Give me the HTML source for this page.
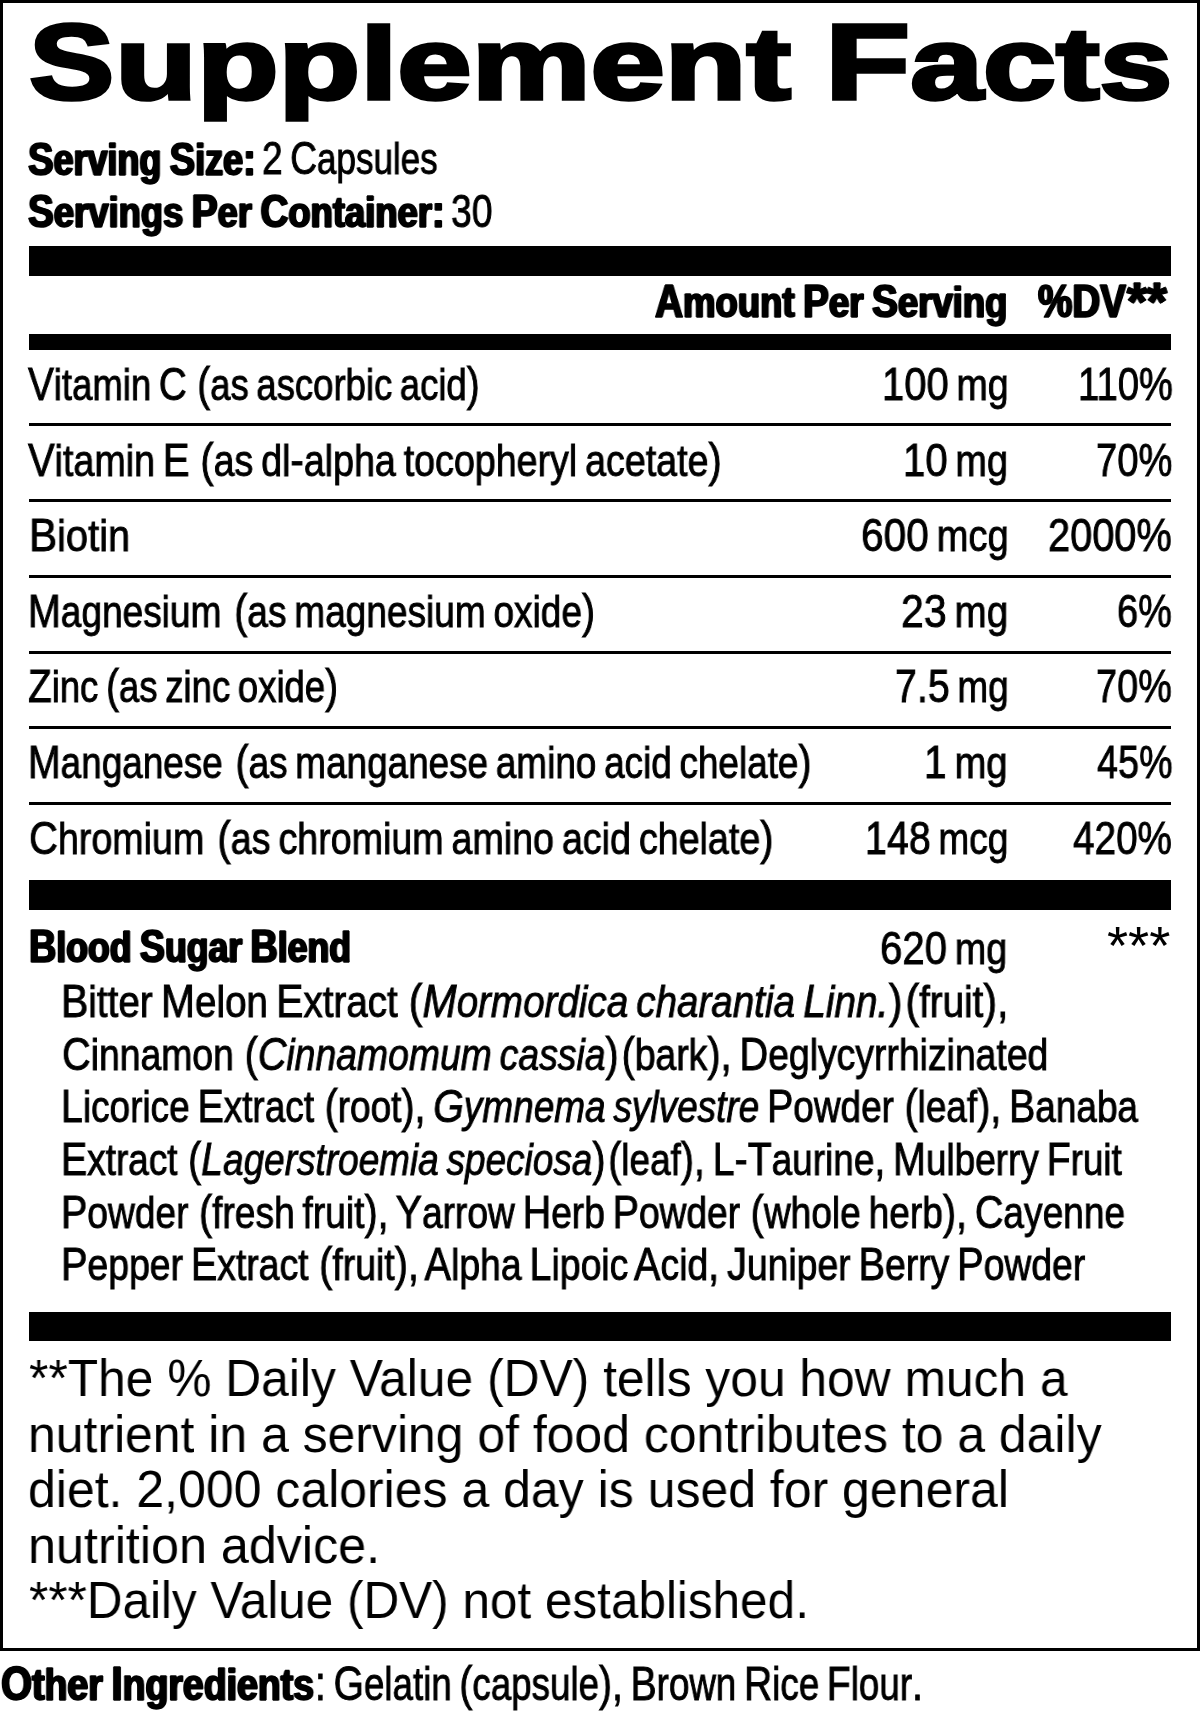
<!DOCTYPE html>
<html><head><meta charset="utf-8"><title>Supplement Facts</title><style>
html,body{margin:0;padding:0;background:#fff;}
body{width:1200px;height:1711px;position:relative;overflow:hidden;}
.box{position:absolute;left:0;top:0;width:1194px;height:1645px;border:3px solid #000;}
.bar{position:absolute;left:29px;width:1142px;background:#000;}

.t{position:absolute;white-space:nowrap;transform-origin:0 0;will-change:transform;color:#000;font-family:"Liberation Sans",sans-serif;}
.hb{font-weight:700;-webkit-text-stroke:3.5px #000;}
.b{font-weight:700;word-spacing:-0.06em;-webkit-text-stroke:1.4px #000;text-shadow:1.3px 0 0 #000,-1.3px 0 0 #000;}
.r{font-weight:400;-webkit-text-stroke:0.9px #000;word-spacing:-0.08em;}
.a{font-weight:400;}
.t i{font-style:italic;}
.lc{font-size:0.94em;}
.sN{display:inline-block;transform:scaleX(0.9);transform-origin:0 0;margin-right:-0.06em;}
.lc2{font-size:0.94em;}
.g{display:inline-block;width:0.07em;}
.g2{display:inline-block;width:0.13em;}
</style></head><body>
<div class="box"></div>

<div class="bar" style="top:246px;height:30px"></div>
<div class="bar" style="top:334px;height:16px"></div>
<div class="bar" style="top:423px;height:3px"></div>
<div class="bar" style="top:499px;height:3px"></div>
<div class="bar" style="top:575px;height:3px"></div>
<div class="bar" style="top:651px;height:3px"></div>
<div class="bar" style="top:726px;height:3px"></div>
<div class="bar" style="top:802px;height:3px"></div>
<div class="bar" style="top:880px;height:30px"></div>
<div class="bar" style="top:1312px;height:29px"></div>
<div class="t hb" style="left:28.69px;top:8.14px;font-size:108.287px;line-height:108.287px;transform:scaleX(1.3133)"><span class="sN">S</span><span class="lc">upplement</span></div>
<div class="t hb" style="left:825.28px;top:8.14px;font-size:108.287px;line-height:108.287px;transform:scaleX(1.2874)">F<span class="lc">acts</span></div>
<div class="t b" style="left:28.00px;top:135.77px;font-size:46.222px;line-height:46.222px;transform:scaleX(0.8272)">S<span class=lc2>erving</span> S<span class=lc2>ize</span>:</div>
<div class="t r" style="left:262.41px;top:135.41px;font-size:46.948px;line-height:46.948px;transform:scaleX(0.7936)">2 C<span class=lc2>apsules</span></div>
<div class="t b" style="left:28.00px;top:188.82px;font-size:45.931px;line-height:45.931px;transform:scaleX(0.8432)">S<span class=lc2>ervings</span> P<span class=lc2>er</span> C<span class=lc2>ontainer</span>:</div>
<div class="t r" style="left:451.20px;top:188.45px;font-size:46.658px;line-height:46.658px;transform:scaleX(0.8000)">30</div>
<div class="t b" style="left:655.00px;top:279.22px;font-size:45.931px;line-height:45.931px;transform:scaleX(0.8458)">A<span class=lc2>mount</span> P<span class=lc2>er</span> S<span class=lc2>erving</span></div>
<div class="t b" style="left:1037.75px;top:279.22px;font-size:45.931px;line-height:45.931px;transform:scaleX(0.8405)">%DV</div>
<div class="t b" style="left:1127.10px;top:274.03px;font-size:54.125px;line-height:54.125px;transform:scaleX(0.9468)">**</div>
<div class="t r" style="left:28.00px;top:360.85px;font-size:46.658px;line-height:46.658px;transform:scaleX(0.8318)">V<span class=lc2>itamin</span> C <span class=g style=width:0.07em></span>(<span class=lc2>as</span> <span class=lc2>ascorbic</span> <span class=lc2>acid</span>)</div>
<div class="t r" style="left:881.83px;top:360.85px;font-size:46.658px;line-height:46.658px;transform:scaleX(0.8563)">100 <span class=lc2>mg</span></div>
<div class="t r" style="left:1077.54px;top:360.85px;font-size:46.658px;line-height:46.658px;transform:scaleX(0.8198)">110%</div>
<div class="t r" style="left:28.00px;top:436.55px;font-size:46.658px;line-height:46.658px;transform:scaleX(0.8575)">V<span class=lc2>itamin</span> E <span class=g style=width:0.07em></span>(<span class=lc2>as</span> <span class=lc2>dl</span>-<span class=lc2>alpha</span> <span class=lc2>tocopheryl</span> <span class=lc2>acetate</span>)</div>
<div class="t r" style="left:902.82px;top:436.55px;font-size:46.658px;line-height:46.658px;transform:scaleX(0.8598)">10 <span class=lc2>mg</span></div>
<div class="t r" style="left:1095.76px;top:436.55px;font-size:46.658px;line-height:46.658px;transform:scaleX(0.8178)">70%</div>
<div class="t r" style="left:29.28px;top:512.15px;font-size:46.658px;line-height:46.658px;transform:scaleX(0.9057)">B<span class=lc2>iotin</span></div>
<div class="t r" style="left:860.76px;top:512.15px;font-size:46.658px;line-height:46.658px;transform:scaleX(0.8697)">600 <span class=lc2>mcg</span></div>
<div class="t r" style="left:1048.30px;top:512.15px;font-size:46.658px;line-height:46.658px;transform:scaleX(0.8521)">2000%</div>
<div class="t r" style="left:28.07px;top:587.85px;font-size:46.658px;line-height:46.658px;transform:scaleX(0.8444)">M<span class=lc2>agnesium</span> <span class=g style=width:0.13em></span>(<span class=lc2>as</span> <span class=lc2>magnesium</span> <span class=lc2>oxide</span>)</div>
<div class="t r" style="left:900.64px;top:587.85px;font-size:46.658px;line-height:46.658px;transform:scaleX(0.8780)">23 <span class=lc2>mg</span></div>
<div class="t r" style="left:1117.38px;top:587.85px;font-size:46.658px;line-height:46.658px;transform:scaleX(0.8125)">6%</div>
<div class="t r" style="left:27.57px;top:663.45px;font-size:46.658px;line-height:46.658px;transform:scaleX(0.8325)">Z<span class=lc2>inc</span> <span class=g style=width:0.00em></span>(<span class=lc2>as</span> <span class=lc2>zinc</span> <span class=lc2>oxide</span>)</div>
<div class="t r" style="left:894.71px;top:663.45px;font-size:46.658px;line-height:46.658px;transform:scaleX(0.8431)">7.5 <span class=lc2>mg</span></div>
<div class="t r" style="left:1096.38px;top:663.45px;font-size:46.658px;line-height:46.658px;transform:scaleX(0.8111)">70%</div>
<div class="t r" style="left:28.08px;top:739.15px;font-size:46.658px;line-height:46.658px;transform:scaleX(0.8411)">M<span class=lc2>anganese</span> <span class=g style=width:0.13em></span>(<span class=lc2>as</span> <span class=lc2>manganese</span> <span class=lc2>amino</span> <span class=lc2>acid</span> <span class=lc2>chelate</span>)</div>
<div class="t r" style="left:924.40px;top:739.15px;font-size:46.658px;line-height:46.658px;transform:scaleX(0.8681)">1 <span class=lc2>mg</span></div>
<div class="t r" style="left:1096.59px;top:739.15px;font-size:46.658px;line-height:46.658px;transform:scaleX(0.8088)">45%</div>
<div class="t r" style="left:28.68px;top:814.75px;font-size:46.658px;line-height:46.658px;transform:scaleX(0.8582)">C<span class=lc2>hromium</span> <span class=g style=width:0.13em></span>(<span class=lc2>as</span> <span class=lc2>chromium</span> <span class=lc2>amino</span> <span class=lc2>acid</span> <span class=lc2>chelate</span>)</div>
<div class="t r" style="left:865.07px;top:814.75px;font-size:46.658px;line-height:46.658px;transform:scaleX(0.8439)">148 <span class=lc2>mcg</span></div>
<div class="t r" style="left:1073.17px;top:814.75px;font-size:46.658px;line-height:46.658px;transform:scaleX(0.8291)">420%</div>
<div class="t b" style="left:29.15px;top:924.22px;font-size:45.931px;line-height:45.931px;transform:scaleX(0.8248)">B<span class=lc2>lood</span> S<span class=lc2>ugar</span> B<span class=lc2>lend</span></div>
<div class="t r" style="left:880.28px;top:924.85px;font-size:46.658px;line-height:46.658px;transform:scaleX(0.8601)">620 <span class=lc2>mg</span></div>
<div class="t r" style="left:60.86px;top:978.35px;font-size:46.658px;line-height:46.658px;transform:scaleX(0.8799)">B<span class=lc2>itter</span> M<span class=lc2>elon</span> E<span class=lc2>xtract</span> <span class=g></span>(<i>M<span class=lc2>ormordica</span> <span class=lc2>charantia</span> L<span class=lc2>inn</span>.</i>)<span class=g></span>(<span class=lc2>fruit</span>),</div>
<div class="t r" style="left:61.80px;top:1030.85px;font-size:46.658px;line-height:46.658px;transform:scaleX(0.8514)">C<span class=lc2>innamon</span> <span class=g></span>(<i>C<span class=lc2>innamomum</span> <span class=lc2>cassia</span></i>)<span class=g></span>(<span class=lc2>bark</span>), D<span class=lc2>eglycyrrhizinated</span></div>
<div class="t r" style="left:60.97px;top:1083.35px;font-size:46.658px;line-height:46.658px;transform:scaleX(0.8431)">L<span class=lc2>icorice</span> E<span class=lc2>xtract</span> <span class=g></span>(<span class=lc2>root</span>), <i>G<span class=lc2>ymnema</span> <span class=lc2>sylvestre</span></i> P<span class=lc2>owder</span> <span class=g></span>(<span class=lc2>leaf</span>), B<span class=lc2>anaba</span></div>
<div class="t r" style="left:60.97px;top:1135.85px;font-size:46.658px;line-height:46.658px;transform:scaleX(0.8428)">E<span class=lc2>xtract</span> <span class=g></span>(<i>L<span class=lc2>agerstroemia</span> <span class=lc2>speciosa</span></i>)<span class=g></span>(<span class=lc2>leaf</span>), L-T<span class=lc2>aurine</span>, M<span class=lc2>ulberry</span> F<span class=lc2>ruit</span></div>
<div class="t r" style="left:60.96px;top:1188.85px;font-size:46.658px;line-height:46.658px;transform:scaleX(0.8466)">P<span class=lc2>owder</span> <span class=g></span>(<span class=lc2>fresh</span> <span class=lc2>fruit</span>), Y<span class=lc2>arrow</span> H<span class=lc2>erb</span> P<span class=lc2>owder</span> <span class=g></span>(<span class=lc2>whole</span> <span class=lc2>herb</span>), C<span class=lc2>ayenne</span></div>
<div class="t r" style="left:60.95px;top:1241.35px;font-size:46.658px;line-height:46.658px;transform:scaleX(0.8512)">P<span class=lc2>epper</span> E<span class=lc2>xtract</span> <span class=g></span>(<span class=lc2>fruit</span>), A<span class=lc2>lpha</span> L<span class=lc2>ipoic</span> A<span class=lc2>cid</span>, J<span class=lc2>uniper</span> B<span class=lc2>erry</span> P<span class=lc2>owder</span></div>
<div class="t a" style="left:29.35px;top:1352.46px;font-size:52.617px;line-height:52.617px;transform:scaleX(0.9455)">**The % Daily Value (DV) tells you how much a</div>
<div class="t a" style="left:28.11px;top:1408.06px;font-size:52.617px;line-height:52.617px;transform:scaleX(0.9486)">nutrient in a serving of food contributes to a daily</div>
<div class="t a" style="left:28.30px;top:1463.46px;font-size:52.617px;line-height:52.617px;transform:scaleX(0.9501)">diet. 2,000 calories a day is used for general</div>
<div class="t a" style="left:28.08px;top:1518.86px;font-size:52.617px;line-height:52.617px;transform:scaleX(0.9558)">nutrition advice.</div>
<div class="t a" style="left:29.36px;top:1574.26px;font-size:52.617px;line-height:52.617px;transform:scaleX(0.9402)">***Daily Value (DV) not established.</div>
<div class="t b" style="left:0.67px;top:1659.37px;font-size:48.111px;line-height:48.111px;transform:scaleX(0.8285)">O<span class=lc2>ther</span> I<span class=lc2>ngredients</span></div>
<div class="t r" style="left:314.80px;top:1659.01px;font-size:48.838px;line-height:48.838px;transform:scaleX(0.8000)">: G<span class=lc2>elatin</span> (<span class=lc2>capsule</span>), B<span class=lc2>rown</span> R<span class=lc2>ice</span> F<span class=lc2>lour</span>.</div>
<div class="t a" style="left:1107.10px;top:918.86px;font-size:54.286px;line-height:54.286px;transform:scaleX(0.9996)">***</div>
</body></html>
